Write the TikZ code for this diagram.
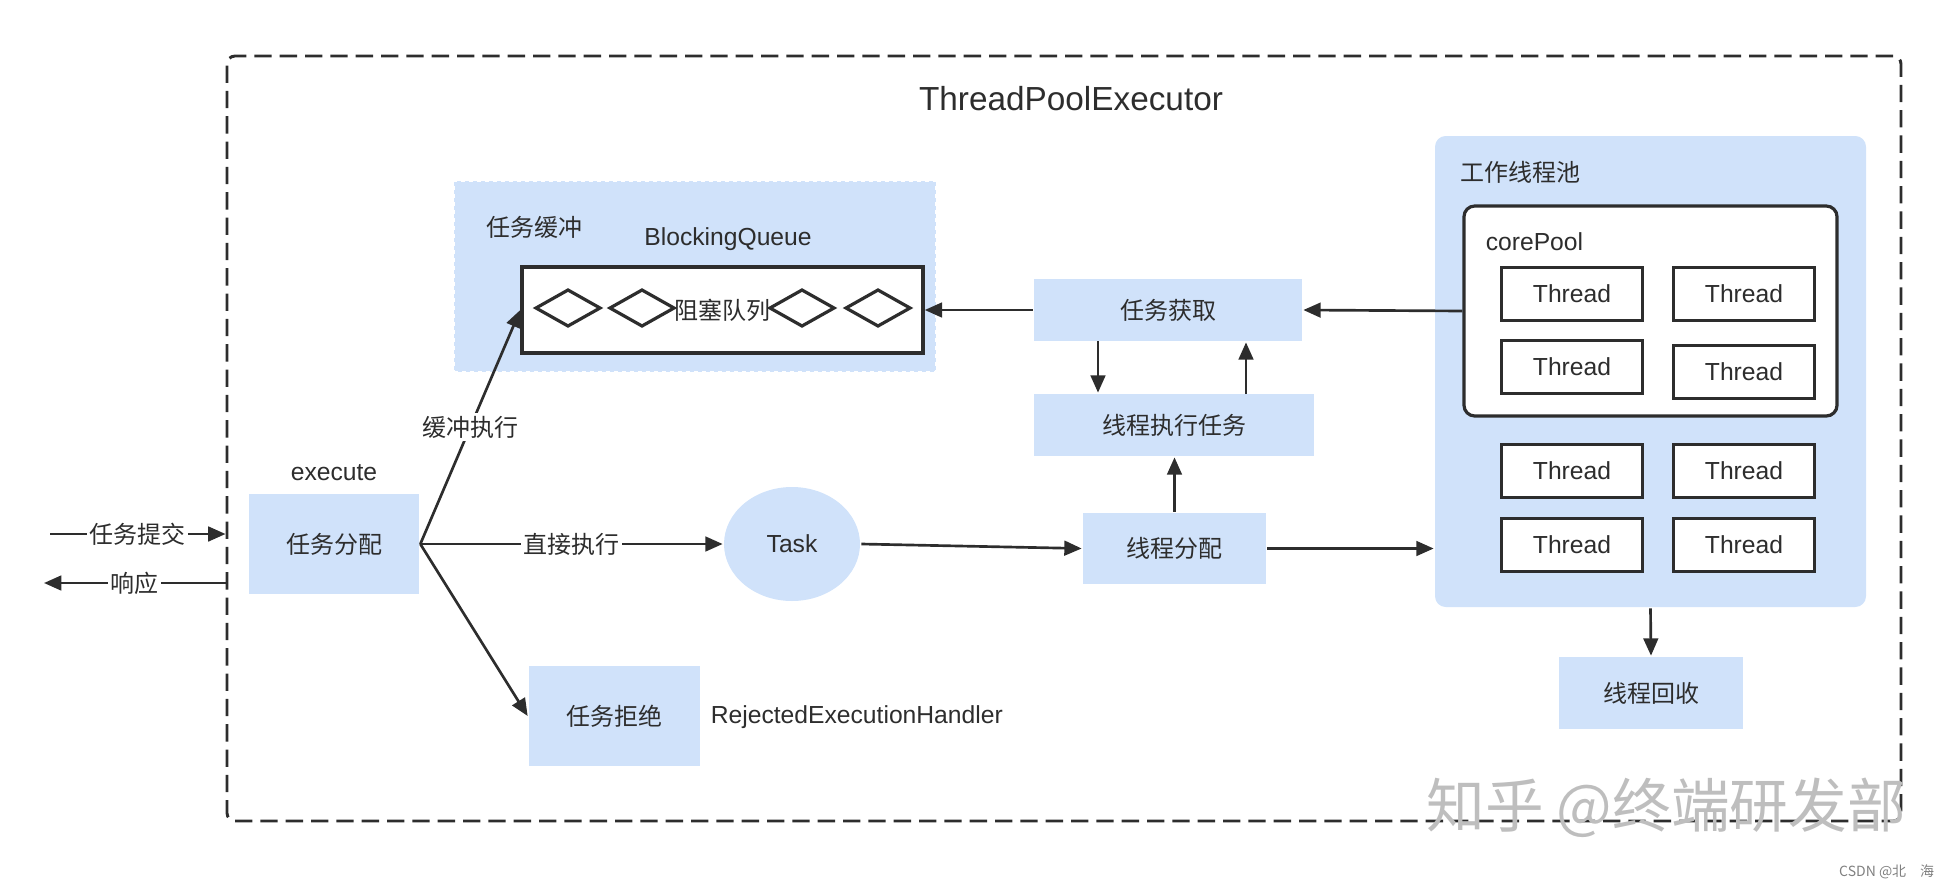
\documentclass[tikz,border=0pt]{standalone}
\usepackage{fontspec}
\setmainfont{Liberation Sans}
\newfontfamily\cjkfont{Noto Sans CJK SC}
\usetikzlibrary{arrows.meta,fit,shapes.geometric}

\definecolor{boxblue}{RGB}{208,226,250}
\definecolor{inkgray}{RGB}{45,45,45}
\definecolor{markgray}{RGB}{190,190,190}

\tikzset{every picture/.style={line width=2pt}}
\tikzset{
  cn/.style={font=\cjkfont\fontsize{18}{22}\selectfont, text=inkgray},
  en/.style={font=\fontsize{18.5}{22}\selectfont, text=inkgray},
  bluebox/.style={fill=boxblue, draw=none, inner sep=0pt, label={[cn]center:#1}},
  threadbox/.style={draw=inkgray, fill=white, line width=2.2pt, inner sep=0pt, minimum width=106pt, minimum height=40pt, en},
  arr/.style={draw=inkgray, line width=2pt, -{Triangle[length=13pt,width=11pt]}},
  onlabel/.style={cn, fill=white, inner sep=2pt},
}

\begin{document}
\begin{tikzpicture}[x=0.75pt,y=0.75pt,yscale=-1,xscale=1]
	\useasboundingbox (0,0) rectangle (1956,889);

	%Shape: outer executor frame
	\node [draw=inkgray, line width=2.2pt, dash pattern=on 13pt off 6pt, rounded corners=6pt, inner sep=0pt, fit={(227,56) (1901,821)}] (outer) {};
	% Text Node
	\node [en, font=\fontsize{25}{30}\selectfont] (title) at (1071,99) {ThreadPoolExecutor};

	%Shape: task buffer area
	\node [fill=boxblue, draw=white, dashed, line width=1.2pt, inner sep=0pt, fit={(454,181) (936,372)}] (buffer) {};
	\node [cn, anchor=west] (buffer-title) at (481,227) {任务缓冲};
	\node [en] (queue-title) at (728,239) {BlockingQueue};
	\node [draw=inkgray, fill=white, line width=2.6pt, inner sep=0pt, fit={(522,267) (923,353)}] (queue) {};
	%Shape: queue slots
	\draw [inkgray, line width=2.4pt] (536,308) -- (568,290) -- (600,308) -- (568,326) -- cycle ;
	\draw [inkgray, line width=2.4pt] (610,308) -- (642,290) -- (674,308) -- (642,326) -- cycle ;
	\draw [inkgray, line width=2.4pt] (770,308) -- (802,290) -- (834,308) -- (802,326) -- cycle ;
	\draw [inkgray, line width=2.4pt] (846,308) -- (878,290) -- (910,308) -- (878,326) -- cycle ;
	\node [cn] (queue-text) at (722,310) {阻塞队列};

	%Shape: dispatch side
	\node [bluebox=任务分配, fit={(249,494) (419,594)}] (dispatch) {};
	\node [en] (execute) at (334,473) {execute};
	\node [ellipse, fill=boxblue, inner sep=0pt, minimum width=102pt, minimum height=85.5pt, en] (task) at (792,544) {Task};
	\node [bluebox=任务拒绝, fit={(529,666) (700,766)}] (reject) {};
	\node [en, anchor=west] (handler) at (705,717) {RejectedExecutionHandler};

	%Shape: worker side
	\node [bluebox=任务获取, fit={(1034,279) (1302,341)}] (fetch) {};
	\node [bluebox=线程执行任务, fit={(1034,394) (1314,456)}] (run) {};
	\node [bluebox=线程分配, fit={(1083,513) (1266,584)}] (alloc) {};
	\node [bluebox=线程回收, fit={(1559,657) (1743,729)}] (recycle) {};

	%Shape: worker pool
	\node [fill=boxblue, rounded corners=8pt, inner sep=0pt, fit={(1435,136) (1866,607)}] (pool) {};
	\node [cn, anchor=west] (pool-title) at (1455,172) {工作线程池};
	\node [draw=inkgray, fill=white, line width=2.4pt, rounded corners=8pt, inner sep=0pt, fit={(1464,206) (1837,416)}] (core) {};
	\node [en, anchor=west] (core-title) at (1480,242) {corePool};
	\node [threadbox] (core-a) at (1572,294) {Thread};
	\node [threadbox] (core-b) at (1744,294) {Thread};
	\node [threadbox] (core-c) at (1572,367) {Thread};
	\node [threadbox] (core-d) at (1744,372) {Thread};
	\node [threadbox] (extra-a) at (1572,471) {Thread};
	\node [threadbox] (extra-b) at (1744,471) {Thread};
	\node [threadbox] (extra-c) at (1572,545) {Thread};
	\node [threadbox] (extra-d) at (1744,545) {Thread};

	%Straight Lines: submit and response
	\coordinate (submit-start) at (50,534);
	\coordinate (reply-end) at (44,583);
	\draw [arr] (submit-start) -- node [onlabel] {任务提交} (submit-start -| outer.west) ;
	\draw [arr] (reply-end -| outer.west) -- node [onlabel] {响应} (reply-end) ;

	%Straight Lines: dispatch
	\draw [arr] (dispatch.east) -- node [onlabel] {缓冲执行} (queue.west) ;
	\draw [arr] (dispatch.east) -- node [onlabel] {直接执行} (task.west) ;
	\draw [arr] (dispatch.east) -- (reject.west) ;
	\draw [arr] (task.east) -- (alloc.west) ;
	\draw [arr] (alloc.east) -- (alloc.east -| pool.west) ;
	\draw [arr] (alloc.north) -- (alloc.north |- run.south) ;

	%Straight Lines: fetch loop
	\coordinate (fetch-down) at (1098,341);
	\coordinate (fetch-up) at (1246,394);
	\draw [arr] (fetch-down) -- (fetch-down |- run.north) ;
	\draw [arr] (fetch-up) -- (fetch-up |- fetch.south) ;
	\draw [arr] (core.west) -- (fetch.east) ;
	\draw [arr] (fetch.west) -- (queue.east) ;
	\draw [arr] (pool.south) -- (recycle.north) ;

	% Text Node: watermarks
	\node [font=\cjkfont\fontsize{44}{50}\selectfont, text=markgray] (mark) at (1666,808) {知乎 @终端研发部};
	\node [font=\cjkfont\fontsize{10.5}{12}\selectfont, text=gray, anchor=east] (csdn) at (1940,872) {CSDN @北\quad 海};

\end{tikzpicture}
\end{document}
